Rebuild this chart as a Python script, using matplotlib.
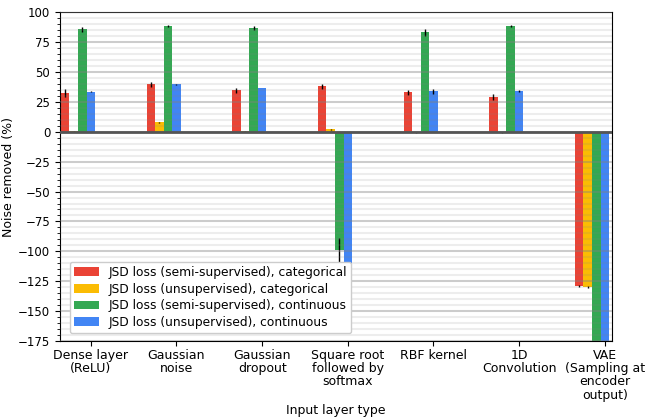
import numpy as np
import matplotlib
matplotlib.use("Agg")
import matplotlib.pyplot as plt
from matplotlib.ticker import MultipleLocator

# data
categories = [
    "Dense layer\n(ReLU)",
    "Gaussian\nnoise",
    "Gaussian\ndropout",
    "Square root\nfollowed by\nsoftmax",
    "RBF kernel",
    "1D\nConvolution",
    "VAE\n(Sampling at\nencoder\noutput)",
]
series_names = [
    "JSD loss (semi-supervised), categorical",
    "JSD loss (unsupervised), categorical",
    "JSD loss (semi-supervised), continuous",
    "JSD loss (unsupervised), continuous",
]
semi_cat = [32.5, 39.8, 34.8, 38.1, 33.1, 28.9, -128.8]
semi_cat_err = [3.5, 2.0, 2.0, 2.0, 2.0, 2.5, 1.0]
unsup_cat = [0.3, 8.0, 0.4, 1.9, -0.5, -0.5, -130.0]
unsup_cat_err = [0.3, 0.5, 0.3, 0.3, 0.3, 0.3, 1.0]
semi_cont = [85.8, 88.3, 86.6, -98.5, 83.3, 88.3, -200.0]
semi_cont_err = [2.0, 1.0, 1.5, 10.0, 3.0, 1.0, 0.0]
unsup_cont = [33.4, 39.8, 36.5, -117.0, 33.9, 33.9, -200.0]
unsup_cont_err = [0.5, 0.3, 0.3, 1.0, 2.0, 1.0, 0.0]

colors = ["#EA4335", "#FBBC04", "#34A853", "#4285F4"]

plt.rcParams["font.size"] = 9

fig = plt.figure(figsize=(6.45, 4.19), dpi=100)
ax = fig.add_axes([0.093, 0.186, 0.856, 0.785])

x = np.arange(len(categories))
width = 0.1
values = [semi_cat, unsup_cat, semi_cont, unsup_cont]
errors = [semi_cat_err, unsup_cat_err, semi_cont_err, unsup_cont_err]
for i, (vals, errs) in enumerate(zip(values, errors)):
    ax.bar(x + (i - 3) * width, vals, width, yerr=errs, color=colors[i],
           label=series_names[i], error_kw=dict(ecolor="black", elinewidth=1, capsize=0),
           zorder=1)

ax.set_axisbelow(False)
ax.yaxis.set_major_locator(MultipleLocator(25))
ax.yaxis.set_minor_locator(MultipleLocator(5))
ax.grid(which="major", axis="y", color="gray", alpha=0.4, linewidth=1.5, zorder=3)
ax.grid(which="minor", axis="y", color="gray", alpha=0.14, linewidth=1.5, zorder=3)
ax.axhline(0, color="#555555", linewidth=2, zorder=4)

ax.set_xticks(x)
ax.set_xticklabels(categories, linespacing=1.03)
ax.tick_params(axis="x", pad=2)
ax.tick_params(axis="y", labelsize=8.5)
ax.set_xlim(-0.36, 6.085)
ax.set_ylim(-175, 100)
ax.set_xlabel("Input layer type", labelpad=2)
ax.set_ylabel("Noise removed (%)", labelpad=2)

ax.legend(loc="lower left", bbox_to_anchor=(0.007, 0.005), fontsize=8.8,
          framealpha=1.0, labelspacing=0.3, borderpad=0.35)

fig.savefig("out.png", dpi=100)
